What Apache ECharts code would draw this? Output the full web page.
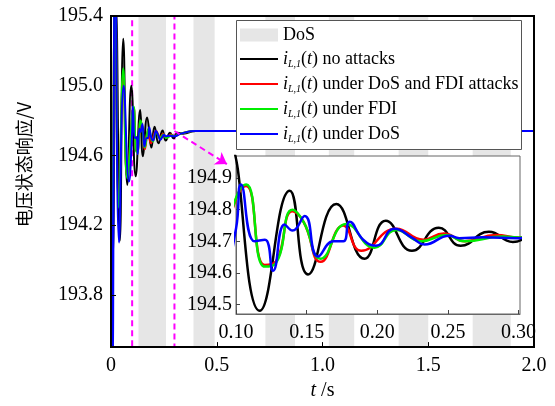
<!DOCTYPE html>
<html>
<head>
<meta charset="utf-8">
<script src="https://cdn.jsdelivr.net/npm/echarts@6/dist/echarts.min.js"></script>
<style>
  html, body { margin: 0; padding: 0; background: #fff; }
  #main { width: 555px; height: 406px; }
</style>
</head>
<body>
<div id="main"></div>
<script>
// DoS 攻击时段 (s)
var dosIntervals = [[0.13, 0.26], [0.39, 0.49], [0.73, 0.87], [1.03, 1.15], [1.36, 1.50], [1.71, 1.89]];

// 电压响应 [t, V]
var noAttack = [[0, 195.0], [0.008, 194.0], [0.024, 195.45], [0.042, 194.11], [0.058, 195.27], [0.077, 194.43],
  [0.096, 195.0], [0.1168, 194.48], [0.138, 194.86], [0.151, 194.595], [0.171, 194.818], [0.191, 194.645],
  [0.206, 194.765], [0.2245, 194.67], [0.2435, 194.743], [0.259, 194.686], [0.279, 194.73], [0.296, 194.698],
  [0.315, 194.73], [0.34, 194.725], [0.4, 194.74], [0.5, 194.74], [1.0, 194.74], [2.0, 194.74]];
var dosFdi = [[0, 195.0], [0.005, 193.7], [0.02, 195.55], [0.037, 194.32], [0.058, 195.05], [0.077, 194.48],
  [0.1073, 194.875], [0.1203, 194.625], [0.128, 194.635], [0.140, 194.795], [0.148, 194.76], [0.160, 194.635],
  [0.176, 194.75], [0.1887, 194.67], [0.2134, 194.74], [0.2325, 194.705], [0.247, 194.725], [0.262, 194.70],
  [0.284, 194.72], [0.30, 194.712], [0.33, 194.725], [0.4, 194.74], [0.5, 194.74], [1.0, 194.74], [2.0, 194.74]];
var fdiOnly = [[0, 195.0], [0.005, 193.65], [0.02, 195.6], [0.037, 194.3], [0.058, 195.1], [0.077, 194.47],
  [0.1073, 194.88], [0.1203, 194.62], [0.128, 194.63], [0.140, 194.80], [0.148, 194.76], [0.160, 194.645],
  [0.178, 194.755], [0.198, 194.68], [0.2134, 194.736], [0.2311, 194.70], [0.249, 194.72], [0.2617, 194.70],
  [0.2887, 194.715], [0.30, 194.712], [0.33, 194.725], [0.4, 194.74], [0.5, 194.74], [1.0, 194.74], [2.0, 194.74]];
var dosOnly = [[0, 195.0], [0.007, 193.3], [0.02, 195.8], [0.038, 194.1], [0.06, 195.0], [0.085, 194.45],
  [0.1, 194.74], [0.1035, 194.88], [0.1132, 194.70], [0.1205, 194.705], [0.1262, 194.607], [0.1344, 194.753],
  [0.140, 194.734], [0.1486, 194.78], [0.158, 194.652], [0.169, 194.70], [0.176, 194.70], [0.1804, 194.762],
  [0.19, 194.705], [0.199, 194.686], [0.2122, 194.74], [0.225, 194.71], [0.2334, 194.69], [0.251, 194.718],
  [0.258, 194.71], [0.2745, 194.713], [0.30, 194.71], [0.33, 194.725], [0.4, 194.74], [0.5, 194.74], [1.0, 194.74], [2.0, 194.74]];

var lineNames = ['no attacks', 'under DoS and FDI attacks', 'under FDI', 'under DoS'];
var lineColors = ['#000000', '#ff0000', '#00ee00', '#0000ff'];
var mainYTicks = [193.8, 194.2, 194.6, 195.0, 195.4];
var insetYTicks = [194.5, 194.6, 194.7, 194.8, 194.9];

var serif = 'Liberation Serif';
var chart = echarts.init(document.getElementById('main'));
var lineData = [noAttack, dosFdi, fdiOnly, dosOnly];
// 图例中的细线图标（上下两个空点撑开高度）
var lineIcon = 'path://M0,0L0.01,0M0,5.5L38,5.5L38,7.5L0,7.5ZM0,13L0.01,13';

var series = [{
  name: 'DoS',
  type: 'custom',
  xAxisIndex: 0,
  yAxisIndex: 0,
  z: 1,
  silent: true,
  itemStyle: { color: '#e6e6e6' },
  encode: { x: [0, 1] },
  data: dosIntervals,
  renderItem: function (params, api) {
    var cs = params.coordSys;
    var x0 = api.coord([api.value(0), 194])[0];
    var x1 = api.coord([api.value(1), 194])[0];
    return {
      type: 'rect',
      shape: { x: x0, y: cs.y, width: x1 - x0, height: cs.height },
      style: { fill: '#e6e6e6' }
    };
  }
}];

// 主图曲线
lineData.forEach(function (d, i) {
  series.push({
    name: lineNames[i], type: 'line', xAxisIndex: 0, yAxisIndex: 0, z: 2,
    data: d, smooth: 0.5, symbol: 'none',
    lineStyle: { color: lineColors[i], width: 2 },
    itemStyle: { color: lineColors[i] }
  });
});
// 局部放大图曲线
lineData.forEach(function (d, i) {
  series.push({
    name: lineNames[i], type: 'line', xAxisIndex: 1, yAxisIndex: 1, z: 11,
    data: d, smooth: 0.5, symbol: 'none', clip: true,
    lineStyle: { color: lineColors[i], width: 2.5 },
    itemStyle: { color: lineColors[i] }
  });
});
// 放大区域框线与箭头
series.push({
  type: 'line', xAxisIndex: 0, yAxisIndex: 0, z: 6, data: [], silent: true,
  markArea: {
    silent: true,
    itemStyle: { color: 'rgba(0,0,0,0)', borderColor: '#ff00ff', borderWidth: 2, borderType: [6, 4] },
    data: [[{ xAxis: 0.1 }, { xAxis: 0.3 }]]
  },
  markLine: {
    silent: true,
    symbol: ['none', 'arrow'],
    symbolSize: 11,
    label: { show: false },
    lineStyle: { color: '#ff00ff', width: 2, type: [6, 4] },
    data: [[{ coord: [0.3, 194.74] }, { coord: [0.548, 194.55] }]]
  }
});

var option = {
  animation: false,
  grid: [
    { left: 111, right: 21, top: 16, bottom: 57, show: true, z: 5,
      backgroundColor: 'rgba(0,0,0,0)', borderColor: '#000', borderWidth: 2 },
    { left: 236, right: 35, top: 156, bottom: 92, show: true, z: 10,
      backgroundColor: '#fff', borderColor: '#666', borderWidth: 1 }
  ],
  xAxis: [
    {
      type: 'value', gridIndex: 0, min: 0, max: 2, interval: 0.5, z: 5,
      name: '{it|t}{n| /s}', nameLocation: 'middle', nameGap: 28,
      nameTextStyle: {
        rich: {
          it: { fontFamily: serif, fontSize: 20, fontStyle: 'italic', color: '#000' },
          n: { fontFamily: serif, fontSize: 20, color: '#000' }
        }
      },
      axisLine: { lineStyle: { color: '#000', width: 2 } },
      axisTick: { inside: true, length: 5, lineStyle: { color: '#000' } },
      axisLabel: {
        margin: 9, color: '#000', fontFamily: serif, fontSize: 20,
        formatter: function (v) { return v === 0 ? '0' : v.toFixed(1); }
      },
      splitLine: { show: false }
    },
    {
      type: 'value', gridIndex: 1, min: 0.1, max: 0.301, interval: 0.05, z: 10,
      axisLine: { lineStyle: { color: '#666', width: 1 } },
      axisTick: { inside: true, length: 4, lineStyle: { color: '#444' } },
      axisLabel: {
        margin: 9, color: '#000', fontFamily: serif, fontSize: 20,
        formatter: function (v) { return v.toFixed(2); }
      },
      splitLine: { show: false }
    }
  ],
  yAxis: [
    {
      type: 'value', gridIndex: 0, min: 193.5, max: 195.4, z: 5,
      name: '电压状态响应/V', nameLocation: 'middle', nameGap: 78, nameRotate: 90,
      nameTextStyle: { fontFamily: 'Noto Sans CJK SC', fontSize: 18, color: '#000', padding: [0, 0, 0, 34] },
      axisLine: { lineStyle: { color: '#000', width: 2 } },
      axisTick: { inside: true, length: 5, customValues: mainYTicks, lineStyle: { color: '#000' } },
      axisLabel: {
        margin: 8, color: '#000', fontFamily: serif, fontSize: 20, customValues: mainYTicks,
        formatter: function (v) { return v.toFixed(1); }
      },
      splitLine: { show: false }
    },
    {
      type: 'value', gridIndex: 1, min: 194.47, max: 194.97, z: 10,
      axisLine: { lineStyle: { color: '#666', width: 1 } },
      axisTick: { inside: true, length: 4, customValues: insetYTicks, lineStyle: { color: '#444' } },
      axisLabel: {
        margin: 4, color: '#000', fontFamily: serif, fontSize: 20, customValues: insetYTicks,
        formatter: function (v) { return v.toFixed(1); }
      },
      splitLine: { show: false }
    }
  ],
  legend: {
    orient: 'vertical', left: 240, top: 26, padding: 0, itemGap: 6,
    itemWidth: 38, itemHeight: 13, z: 12,
    data: [{ name: 'DoS', icon: 'rect' }].concat(lineNames.map(function (n) {
      return { name: n, icon: lineIcon };
    })),
    textStyle: {
      color: '#000', fontFamily: serif, fontSize: 18,
      rich: {
        d: { fontFamily: serif, fontSize: 18, lineHeight: 14, color: '#000' },
        i: { fontFamily: serif, fontSize: 18, lineHeight: 20, fontStyle: 'italic', color: '#000' },
        s: { fontFamily: serif, fontSize: 10, lineHeight: 12, fontStyle: 'italic', verticalAlign: 'bottom', color: '#000' },
        n: { fontFamily: serif, fontSize: 18, lineHeight: 20, color: '#000' }
      }
    },
    formatter: function (name) {
      if (name === 'DoS') return '{d|DoS}';
      return '{i|i}{s|L,1}{n|(}{i|t}{n|) ' + name + '}';
    }
  },
  graphic: [{
    type: 'rect', z: 11,
    shape: { x: 236.5, y: 20.5, width: 285, height: 129 },
    style: { fill: '#fff', stroke: '#555', lineWidth: 1 }
  }],
  series: series
};

chart.setOption(option);
</script>
</body>
</html>
